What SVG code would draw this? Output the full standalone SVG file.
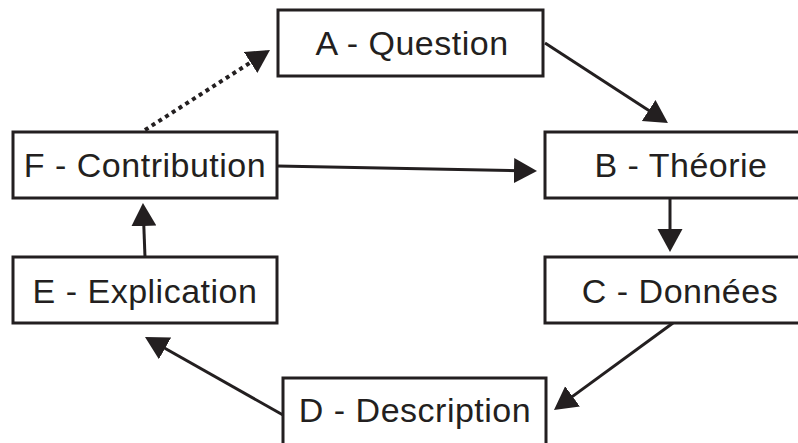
<svg xmlns="http://www.w3.org/2000/svg" width="798" height="443" viewBox="0 0 798 443">
<style>
.box{fill:#fff;stroke:#231f20;stroke-width:3}
.lbl{font-family:"Liberation Sans",Arial,sans-serif;font-size:34px;letter-spacing:0.5px;fill:#231f20;text-anchor:middle}
.conn{stroke:#231f20;stroke-width:3;fill:none}
.dot{stroke-dasharray:4 4;stroke-width:4}
</style>
<defs>
<marker id="ah" markerUnits="userSpaceOnUse" markerWidth="26" markerHeight="26" refX="19" refY="12.5" orient="auto">
<path d="M0,0 L23,12.5 L0,25 Z" fill="#231f20"/>
</marker>
</defs>
<rect width="798" height="443" fill="#fff"/>
<g id="connectors">
<line class="conn" x1="545" y1="43" x2="664.6" y2="120.8" marker-end="url(#ah)"/>
<line class="conn" x1="277" y1="166" x2="533" y2="170.9" marker-end="url(#ah)"/>
<line class="conn" x1="670" y1="198" x2="670" y2="248" marker-end="url(#ah)"/>
<line class="conn" x1="673" y1="323" x2="557.2" y2="407.6" marker-end="url(#ah)"/>
<line class="conn" x1="283" y1="415" x2="148.5" y2="339" marker-end="url(#ah)"/>
<line class="conn" x1="145" y1="257" x2="143.1" y2="207" marker-end="url(#ah)"/>
<line class="conn dot" x1="145" y1="130" x2="266.6" y2="52.2" marker-end="url(#ah)"/>
</g>
<g id="nodeA"><rect class="box" x="278" y="10" width="265" height="66"/><text class="lbl" x="412" y="55">A - Question</text></g>
<g id="nodeB"><rect class="box" x="545" y="132" width="272" height="66"/><text class="lbl" x="681" y="177">B - Théorie</text></g>
<g id="nodeC"><rect class="box" x="545" y="257" width="272" height="66"/><text class="lbl" x="680" y="303">C - Données</text></g>
<g id="nodeD"><rect class="box" x="283" y="378" width="263" height="75"/><text class="lbl" x="415" y="422">D - Description</text></g>
<g id="nodeE"><rect class="box" x="13" y="257" width="264" height="66"/><text class="lbl" x="145" y="303">E - Explication</text></g>
<g id="nodeF"><rect class="box" x="13" y="132" width="264" height="66"/><text class="lbl" x="145" y="177">F - Contribution</text></g>
</svg>
